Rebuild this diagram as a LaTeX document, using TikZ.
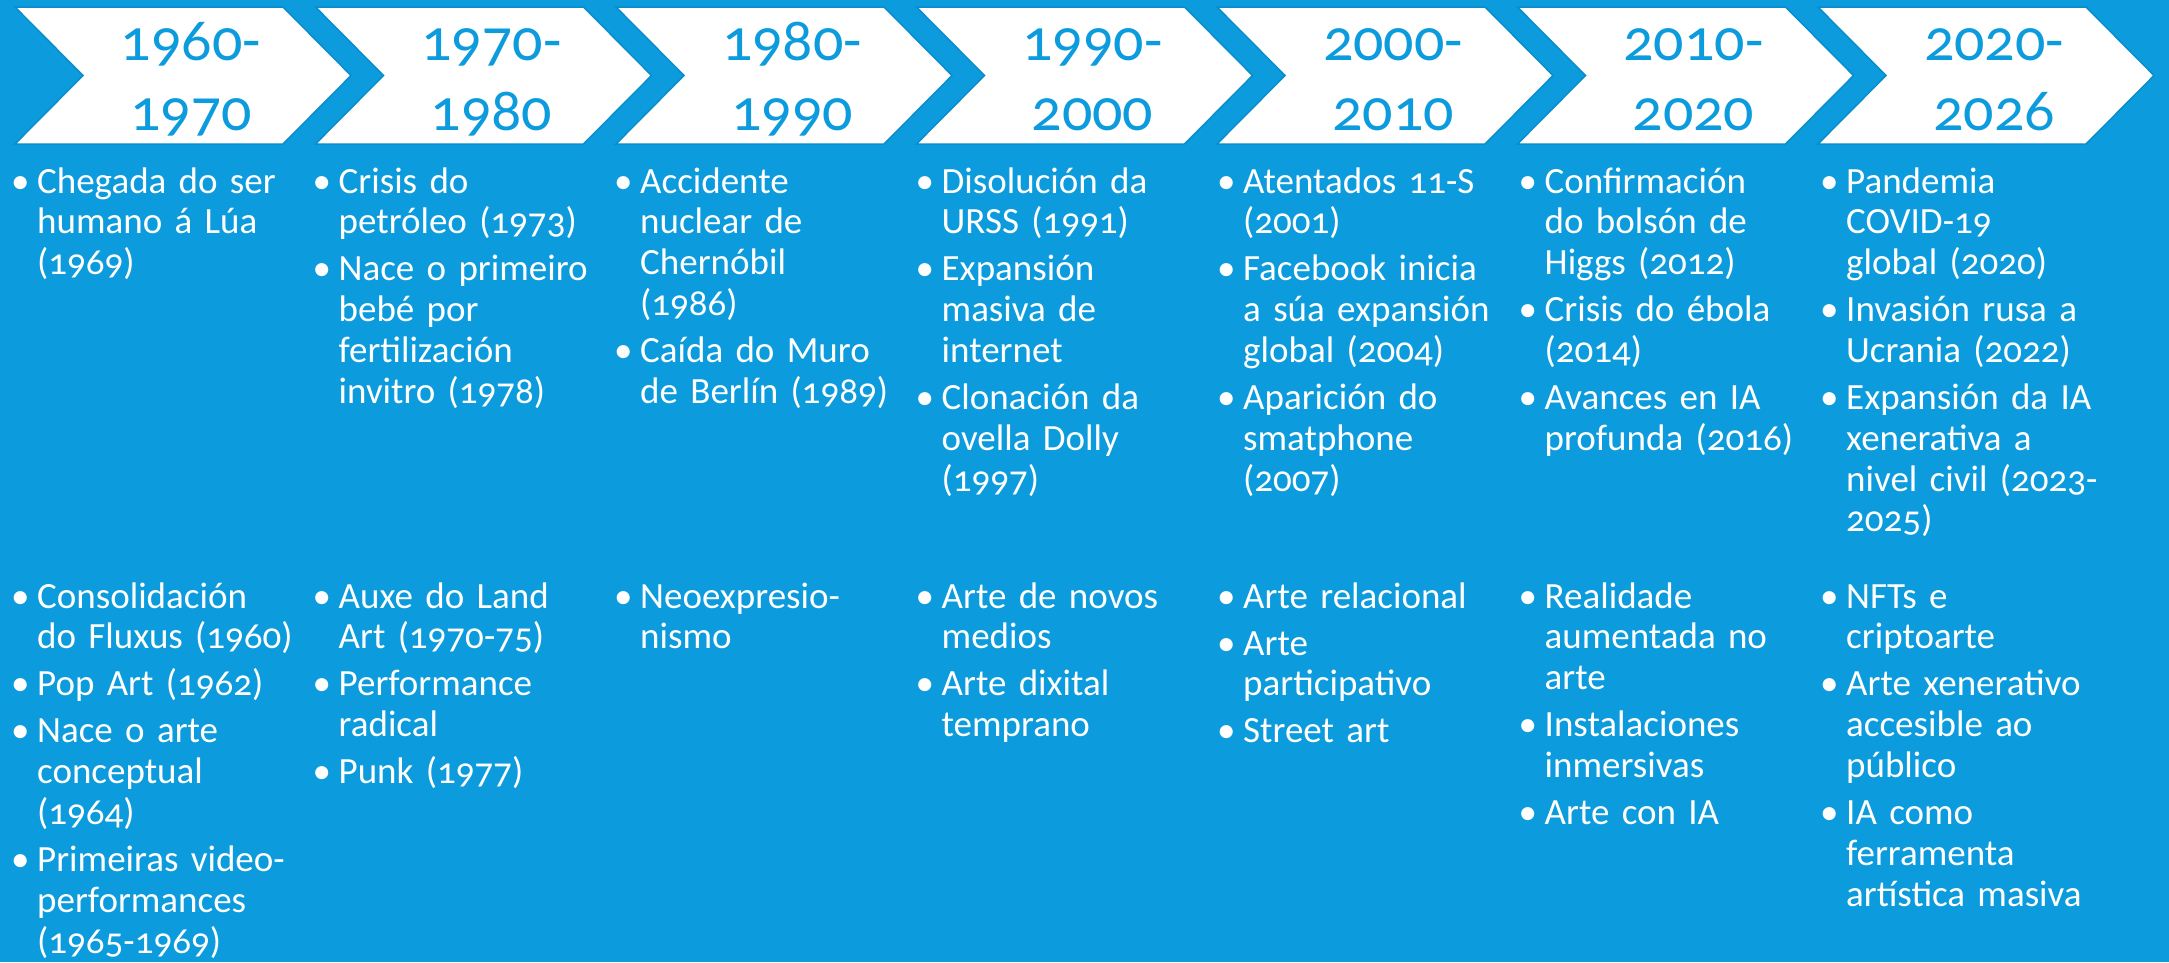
\documentclass[tikz,border=0pt]{standalone}
\usepackage{fontspec}
\setmainfont{Carlito}[Numbers=OldStyle]
\definecolor{bg}{HTML}{0C9BDD}
\definecolor{edge}{HTML}{0A8DCB}
\tikzset{
  chev/.style={fill=white, draw=edge, line width=1.5pt, line join=miter},
  yr/.style={text=bg, font=\fontsize{60}{70}\selectfont, anchor=base, inner sep=0pt},
  items/.style={text=white, font=\fontsize{37}{40.8}\selectfont, anchor=base west, inner sep=0pt, text width=310pt, align=left},
}
\newcommand{\bul}{\noindent\llap{\makebox[26pt][l]{•}}}
\newcommand{\nxt}{\par\vspace{6.2pt}\bul}
\begin{document}
\begin{tikzpicture}[x=1pt,y=-1pt]
\fill[bg] (0,0) rectangle (2169,962);
\useasboundingbox (0,0) rectangle (2169,962);
% chevrons
\foreach \i/\a/\b in {0/1960-/1970,1/1970-/1980,2/1980-/1990,3/1990-/2000,4/2000-/2010,5/2010-/2020,6/2020-/2026}{
  \pgfmathsetmacro{\L}{15+300.5*\i}
  \draw[chev] (\L,7) -- (\L+268,7) -- (\L+336,75.5) -- (\L+268,144) -- (\L,144) -- (\L+68,75.5) -- cycle;
  \node[yr] (ya\i) at (\L+176,60) {\a};
  \node[yr] (yb\i) at (\L+176,130) {\b};
}
% top items
\node[items] (t0) at (37,193) {\bul Chegada do ser\\humano á Lúa\\(1969)};
\node[items] (t1) at (338.5,193) {\bul Crisis do\\petróleo (1973)\nxt Nace o primeiro\\bebé por\\fertilización\\invitro (1978)};
\node[items] (t2) at (640,193) {\bul Accidente\\nuclear de\\Chernóbil\\(1986)\nxt Caída do Muro\\de Berlín (1989)};
\node[items] (t3) at (941.5,193) {\bul Disolución da\\URSS (1991)\nxt Expansión\\masiva de\\internet\nxt Clonación da\\ovella Dolly\\(1997)};
\node[items] (t4) at (1243,193) {\bul Atentados 11-S\\(2001)\nxt Facebook inicia\\a súa expansión\\global (2004)\nxt Aparición do\\smatphone\\(2007)};
\node[items] (t5) at (1544.5,193) {\bul Confirmación\\do bolsón de\\Higgs (2012)\nxt Crisis do ébola\\(2014)\nxt Avances en IA\\profunda (2016)};
\node[items] (t6) at (1846,193) {\bul Pandemia\\COVID-19\\global (2020)\nxt Invasión rusa a\\Ucrania (2022)\nxt Expansión da IA\\xenerativa a\\nivel civil (2023-\\2025)};
% bottom items
\node[items] (b0) at (37,608) {\bul Consolidación\\do Fluxus (1960)\nxt Pop Art (1962)\nxt Nace o arte\\conceptual\\(1964)\nxt Primeiras video-\\performances\\(1965-1969)};
\node[items] (b1) at (338.5,608) {\bul Auxe do Land\\Art (1970-75)\nxt Performance\\radical\nxt Punk (1977)};
\node[items] (b2) at (640,608) {\bul Neoexpresio-\\nismo};
\node[items] (b3) at (941.5,608) {\bul Arte de novos\\medios\nxt Arte dixital\\temprano};
\node[items] (b4) at (1243,608) {\bul Arte relacional\nxt Arte\\participativo\nxt Street art};
\node[items] (b5) at (1544.5,608) {\bul Realidade\\aumentada no\\arte\nxt Instalaciones\\inmersivas\nxt Arte con IA};
\node[items] (b6) at (1846,608) {\bul NFTs e\\criptoarte\nxt Arte xenerativo\\accesible ao\\público\nxt IA como\\ferramenta\\artística masiva};
\end{tikzpicture}
\end{document}
